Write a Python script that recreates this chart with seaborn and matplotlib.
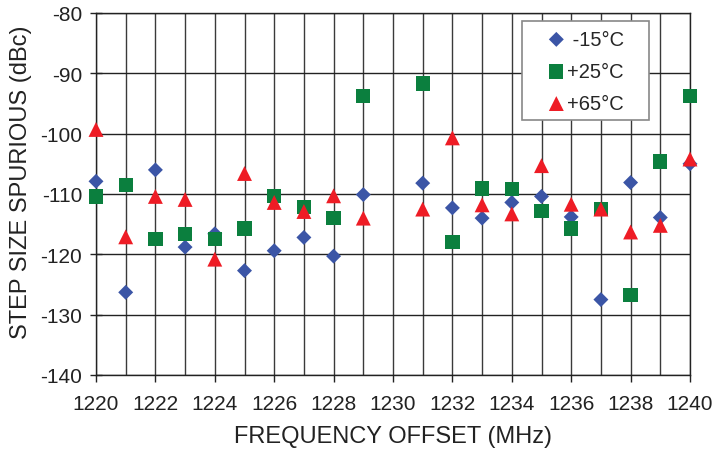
import numpy as np
import pandas as pd
import matplotlib
matplotlib.use("Agg")
import matplotlib.pyplot as plt
import seaborn as sns
from matplotlib.ticker import MultipleLocator
from matplotlib.patches import Rectangle

# Dados
freq = [1220, 1221, 1222, 1223, 1224, 1225, 1226, 1227, 1228, 1229,
        1231, 1232, 1233, 1234, 1235, 1236, 1237, 1238, 1239, 1240]
t_m15 = [-107.9, -126.3, -106.0, -118.8, -116.6, -122.7, -119.4, -117.2, -120.3, -110.1,
         -108.2, -112.3, -114.0, -111.4, -110.4, -113.8, -127.5, -108.1, -113.9, -105.0]
t_p25 = [-110.4, -108.5, -117.5, -116.6, -117.4, -115.7, -110.3, -112.1, -114.0, -93.8,
         -91.7, -117.9, -109.1, -109.2, -112.8, -115.7, -112.5, -126.7, -104.6, -93.7]
t_p65 = [-99.3, -117.1, -110.4, -110.9, -120.8, -106.6, -111.4, -112.9, -110.3, -114.0,
         -112.5, -100.7, -111.8, -113.3, -105.3, -111.7, -112.5, -116.3, -115.2, -104.2]

labels = [" -15°C", "+25°C", "+65°C"]
cores = ["#3B55A6", "#0B7F3E", "#EE1C25"]
marcadores = ["D", "s", "^"]
tamanhos = [58, 105, 115]

sns.set_style("white")
plt.rcParams["font.family"] = ["Liberation Sans", "DejaVu Sans"]
plt.rcParams["axes.unicode_minus"] = False

fig = plt.figure(figsize=(7.13, 4.56), dpi=100)
ax = fig.add_axes([96 / 713, 1 - 376 / 456, 594 / 713, 362 / 456])

for serie, lab, cor, mk, s in zip([t_m15, t_p25, t_p65], labels, cores, marcadores, tamanhos):
    sns.scatterplot(x=freq, y=serie, ax=ax, color=cor, marker=mk, s=s,
                    edgecolor="none", label=lab, zorder=3, clip_on=False)

ax.set_xlim(1220, 1240)
ax.set_ylim(-140, -80)
ax.xaxis.set_major_locator(MultipleLocator(2))
ax.xaxis.set_minor_locator(MultipleLocator(1))
ax.yaxis.set_major_locator(MultipleLocator(10))
ax.grid(True, which="both", axis="x", color="#3a3a3a", lw=1.0)
ax.grid(True, which="major", axis="y", color="#222222", lw=1.0)
ax.set_axisbelow(True)
for sp in ax.spines.values():
    sp.set_color("#222222")
    sp.set_linewidth(1.0)

ax.tick_params(axis="x", which="major", direction="out", length=5, width=1,
               color="#222222", labelsize=15, pad=9, bottom=True, labelcolor="#222222")
ax.tick_params(axis="x", which="minor", length=0)
ax.tick_params(axis="y", direction="inout", length=8, width=1,
               color="#222222", labelsize=15, pad=6, left=True, labelcolor="#222222")

ax.set_xlabel("FREQUENCY OFFSET (MHz)", fontsize=17, color="#222222", labelpad=8)
ax.set_ylabel("STEP SIZE SPURIOUS (dBc)", fontsize=17, color="#222222")
ax.yaxis.set_label_coords(-0.108, 0.535)

# caixa da legenda desenhada à parte (padding horizontal maior que o vertical)
caixa = Rectangle((0.717, 0.704), 0.214, 0.274, transform=ax.transAxes,
                  facecolor="white", edgecolor="#888888", lw=1.2, zorder=4)
ax.add_patch(caixa)
leg = ax.legend(loc="upper left", bbox_to_anchor=(0.758, 0.954), fontsize=14.5,
                frameon=False, borderpad=0, borderaxespad=0,
                handletextpad=0.05, labelspacing=0.65, handlelength=1.0)
leg.set_zorder(5)

fig.savefig("out.png", dpi=100)
